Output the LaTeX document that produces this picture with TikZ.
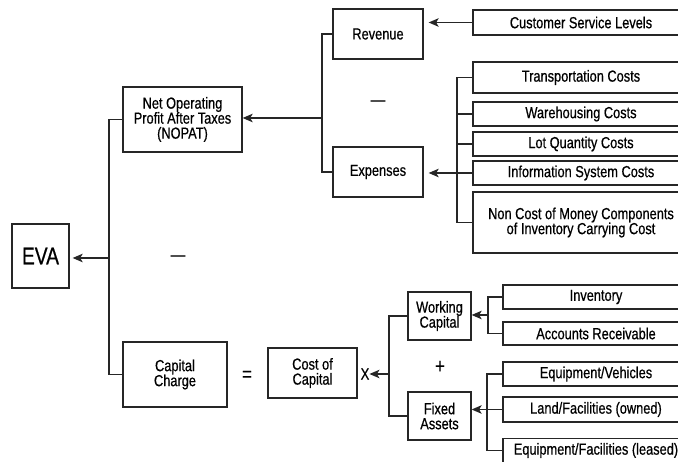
\documentclass[tikz,border=0pt]{standalone}
\usepackage{fontspec}
\setmainfont[FakeStretch=0.8,FakeBold=0.6]{Liberation Sans}
\usetikzlibrary{arrows.meta}
\newcommand\boxfont{\fontsize{16}{15}\selectfont}
\begin{document}
\begin{tikzpicture}[x=1pt,y=-1pt,
  box/.style={draw=black!85, line width=1.3pt, inner sep=0pt, align=center, font=\boxfont},
  link/.style={draw=black!85, line width=1.3pt},
  arr/.style={link, -{Stealth[length=10pt,width=8.5pt,inset=2.5pt]}},
  sym/.style={inner sep=0pt, font=\fontsize{21}{21}\selectfont}]
\useasboundingbox (0,0) rectangle (678,462);
\clip (0,0) rectangle (678,462);

% top level
\node[box, minimum width=57pt, minimum height=64pt, font=\fontsize{24}{24}\selectfont] (eva) at (40.5,256) {EVA};
\node[box, minimum width=119pt, minimum height=65pt] (nopat) at (182.5,119.5) {Net Operating\\Profit After Taxes\\(NOPAT)};
\node[box, minimum width=104pt, minimum height=65pt] (capcharge) at (175,374.5) {Capital\\Charge};

% NOPAT branch
\node[box, minimum width=90pt, minimum height=50pt] (revenue) at (378,34) {Revenue};
\node[box, minimum width=90pt, minimum height=50pt] (expenses) at (378,172) {Expenses};
\node[box, minimum width=216pt, minimum height=25pt] (csl) at (581,22.5) {Customer Service Levels};
\node[box, minimum width=216pt, minimum height=31pt] (trans) at (581,77.5) {Transportation Costs};
\node[box, minimum width=216pt, minimum height=24pt] (ware) at (581,114) {Warehousing Costs};
\node[box, minimum width=216pt, minimum height=24pt] (lot) at (581,144) {Lot Quantity Costs};
\node[box, minimum width=216pt, minimum height=24pt] (info) at (581,173) {Information System Costs};
\node[box, minimum width=216pt, minimum height=61pt] (noncost) at (581,222.5) {Non Cost of Money Components\\of Inventory Carrying Cost};

% capital charge branch
\node[box, minimum width=89pt, minimum height=50pt] (cost) at (312.5,373) {Cost of\\Capital};
\node[box, minimum width=63pt, minimum height=48pt] (wc) at (439.5,316) {Working\\Capital};
\node[box, minimum width=63pt, minimum height=48pt] (fa) at (439.5,416) {Fixed\\Assets};
\node[box, minimum width=186pt, minimum height=24pt] (inv) at (596,297) {Inventory};
\node[box, minimum width=186pt, minimum height=23pt] (ar) at (596,333.5) {Accounts Receivable};
\node[box, minimum width=186pt, minimum height=24pt] (ev) at (596,374) {Equipment/Vehicles};
\node[box, minimum width=186pt, minimum height=25pt] (land) at (596,409.5) {Land/Facilities (owned)};
\node[box, minimum width=186pt, minimum height=24pt] (leased) at (596,450.5) {Equipment/Facilities (leased)};

% operators
\node[sym, font=\fontsize{18}{18}\selectfont] (minus1) at (378,103) {—};
\node[sym, font=\fontsize{18}{18}\selectfont] (minus2) at (178,258) {—};
\node[sym] (equals) at (247,376) {=};
\node[sym] (plus) at (440,367) {+};
\node[sym, font=\boxfont] (times) at (365,374) {X};

% junction points
\coordinate (evajoin) at (109,258);
\coordinate (revjoin) at (322,118);
\coordinate (expjoin) at (457,173);
\coordinate (capjoin) at (389,374);
\coordinate (wcjoin) at (488,315);
\coordinate (fajoin) at (487,410);

% EVA = NOPAT - capital charge
\draw[link] (nopat.west) -| (evajoin) |- (capcharge.west);
\draw[arr, shorten >=3pt] (evajoin) -- (evajoin -| eva.east);

% NOPAT = revenue - expenses
\draw[link] (revenue.west) -| (revjoin) |- (expenses.west);
\draw[arr] (revjoin) -- (revjoin -| nopat.east);
\draw[arr, shorten >=5pt] (csl.west) -- (csl.west -| revenue.east);

% expense components
\draw[link] (trans.west) -| (expjoin) |- (noncost.west);
\draw[link] (ware.west) -- (ware.west -| expjoin);
\draw[link] (lot.west) -- (lot.west -| expjoin);
\draw[arr, shorten >=5pt] (info.west) -- (info.west -| expenses.east);

% capital = working capital + fixed assets
\draw[link] (wc.west) -| (capjoin) |- (fa.west);
\draw[arr] (capjoin) -- (times.east);

\draw[link] (inv.west) -| (wcjoin) |- (ar.west);
\draw[arr] (wcjoin) -- (wcjoin -| wc.east);

\draw[link] (ev.west) -| (fajoin) |- (leased.west);
\draw[arr] (land.west) -- (land.west -| fa.east);
\end{tikzpicture}
\end{document}
